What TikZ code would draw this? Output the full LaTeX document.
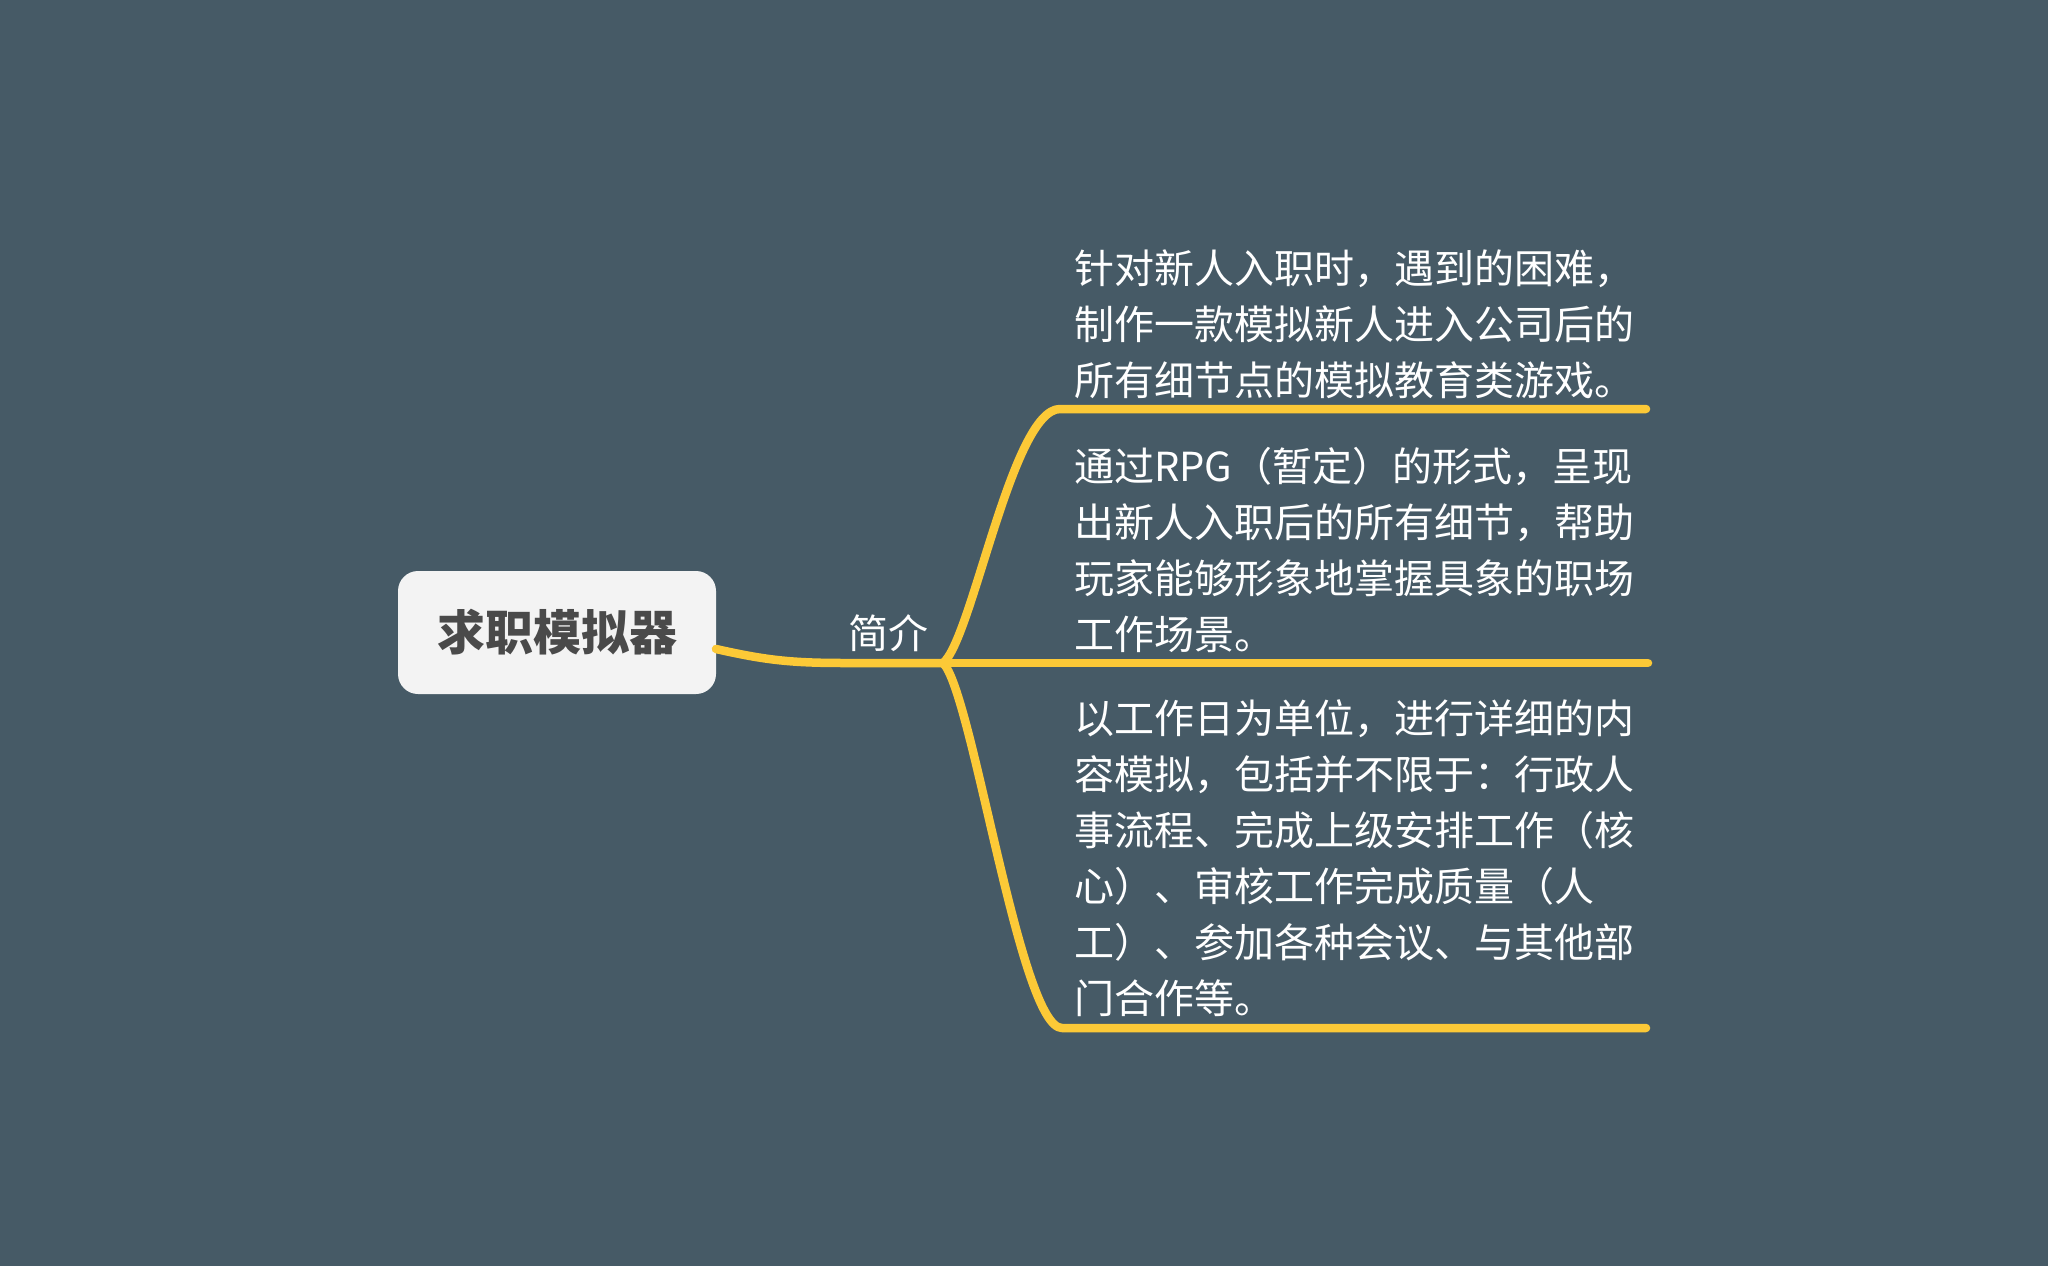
\documentclass[tikz,border=0pt]{standalone}
\usepackage{fontspec}
\setmainfont{Noto Sans CJK SC}
\newfontfamily\cjk{Noto Sans CJK SC}
\definecolor{bgslate}{HTML}{465A66}
\definecolor{branchyellow}{HTML}{FCC937}
\definecolor{rootfill}{HTML}{F3F3F3}
\definecolor{roottext}{HTML}{4A4A4A}
\tikzset{
  branch/.style={draw=branchyellow, line width=8.5pt, line cap=round, line join=round},
  rootbox/.style={fill=rootfill, rounded corners=20pt, minimum width=318pt, minimum height=123pt, inner sep=0pt,
    font=\cjk\bfseries\fontsize{48}{56}\selectfont, text=roottext},
  midlabel/.style={inner sep=0pt, text=white, font=\cjk\fontsize{40}{56}\selectfont},
  leaftext/.style={inner sep=0pt, text=white, anchor=base west, font=\cjk\fontsize{40}{56}\selectfont}
}
\begin{document}
\begin{tikzpicture}[x=1pt,y=-1pt]
  \fill[bgslate] (0,0) rectangle (2048,1266);
  \useasboundingbox (0,0) rectangle (2048,1266);

  % central topic and its label
  \node[rootbox] (root) at (557,632.5) {求职模拟器};
  \node[midlabel] (intro) at (888,633) {简介};

  % junction and branch end points
  \coordinate (hub) at (943,663);
  \coordinate (e1) at (1646,409);
  \coordinate (e2) at (1648,663);
  \coordinate (e3) at (1646,1028);
  \coordinate (rootout) at (716,649);

  % connectors
  \draw[branch] (rootout) .. controls (765,660) and (790,663) .. (845,663) -- (hub);
  \draw[branch] (hub) .. controls (972,640) and (1012,409) .. (1060,409) -- (e1);
  \draw[branch] (hub) -- (e2);
  \draw[branch] (hub) .. controls (972,690) and (1020,1028) .. (1062,1028) -- (e3);

  % leaf texts
  \node[leaftext] (d1) at (1074,283) {\begin{tabular}[t]{@{}l@{}}
    针对新人入职时，遇到的困难，\\
    制作一款模拟新人进入公司后的\\
    所有细节点的模拟教育类游戏。
  \end{tabular}};
  \node[leaftext] (d2) at (1074,481) {\begin{tabular}[t]{@{}l@{}}
    通过RPG（暂定）的形式，呈现\\
    出新人入职后的所有细节，帮助\\
    玩家能够形象地掌握具象的职场\\
    工作场景。
  \end{tabular}};
  \node[leaftext] (d3) at (1074,733) {\begin{tabular}[t]{@{}l@{}}
    以工作日为单位，进行详细的内\\
    容模拟，包括并不限于：行政人\\
    事流程、完成上级安排工作（核\\
    心）、审核工作完成质量（人\\
    工）、参加各种会议、与其他部\\
    门合作等。
  \end{tabular}};
\end{tikzpicture}
\end{document}
